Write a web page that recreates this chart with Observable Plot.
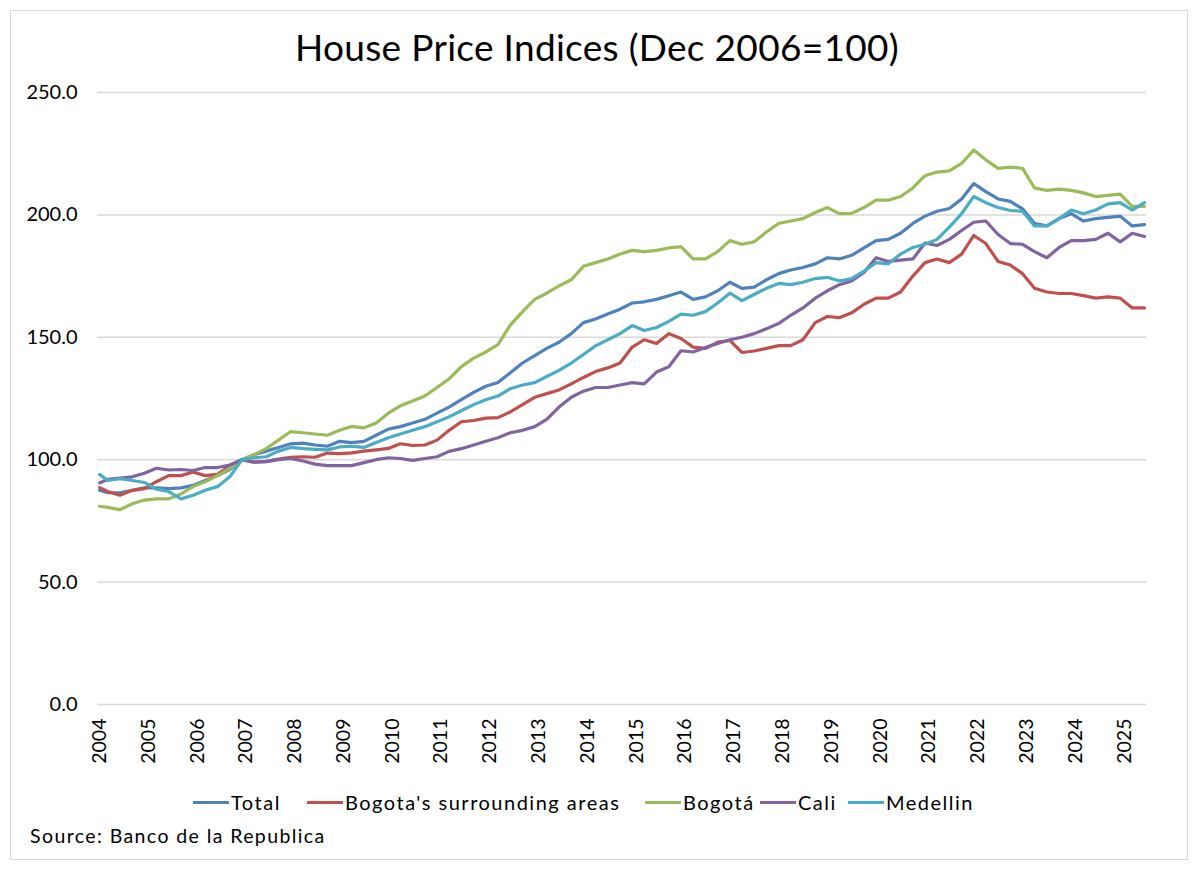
<!DOCTYPE html>
<html>
<head>
<meta charset="utf-8">
<script src="https://cdn.jsdelivr.net/npm/d3@7"></script>
<script src="https://cdn.jsdelivr.net/npm/@observablehq/plot@0.6"></script>
<style>
  body { margin: 0; background: #fff; font-family: Lato, "Open Sans", sans-serif; color: #000; }
  #page { position: relative; width: 1200px; height: 872px; overflow: hidden; }
  #frame { position: absolute; left: 10px; top: 10px; width: 1176px; height: 848px; border: 1.5px solid #d9d9d9; }
  #title { position: absolute; left: 0; top: 24px; width: 1194px; text-align: center; font-size: 37px; letter-spacing: 0.3px; }
  #chart { position: absolute; left: 0; top: 80px; }
  .item { position: absolute; top: 790px; display: flex; align-items: center; font-size: 20px; letter-spacing: 1.5px; white-space: nowrap; }
  .sw { width: 36px; height: 3px; margin-right: 2px; }
  #source { position: absolute; left: 30px; top: 824px; font-size: 19.5px; letter-spacing: 1.4px; }
</style>
</head>
<body>
<div id="page">
  <div id="frame"></div>
  <div id="title">House Price Indices (Dec 2006=100)</div>
  <div id="chart"></div>
  <div id="legend"></div>
  <div id="source">Source: Banco de la Republica</div>
</div>
<script>
const dates = [
  "2004-01","2004-03","2004-06","2004-09","2004-12",
  "2005-03","2005-06","2005-09","2005-12",
  "2006-03","2006-06","2006-09","2006-12",
  "2007-03","2007-06","2007-09","2007-12",
  "2008-03","2008-06","2008-09","2008-12",
  "2009-03","2009-06","2009-09","2009-12",
  "2010-03","2010-06","2010-09","2010-12",
  "2011-03","2011-06","2011-09","2011-12",
  "2012-03","2012-06","2012-09","2012-12",
  "2013-03","2013-06","2013-09","2013-12",
  "2014-03","2014-06","2014-09","2014-12",
  "2015-03","2015-06","2015-09","2015-12",
  "2016-03","2016-06","2016-09","2016-12",
  "2017-03","2017-06","2017-09","2017-12",
  "2018-03","2018-06","2018-09","2018-12",
  "2019-03","2019-06","2019-09","2019-12",
  "2020-03","2020-06","2020-09","2020-12",
  "2021-03","2021-06","2021-09","2021-12",
  "2022-03","2022-06","2022-09","2022-12",
  "2023-03","2023-06","2023-09","2023-12",
  "2024-03","2024-06","2024-09","2024-12",
  "2025-03","2025-06"
];

const seriesNames = ["Total", "Bogota's surrounding areas", "Bogotá", "Cali", "Medellin"];
const seriesColors = ["#4f81bd", "#c0504d", "#9bbb59", "#8064a2", "#4bacc6"];

const total = [
  87.5,86.5,86.5,87.5,88.5, 88.5,88.2,88.5,89.5, 91.5,93.5,96,100,
  102,103.5,105,106.5, 106.8,106,105.5,107.5, 107,107.5,110,112.5,
  113.5,115,116.5,119, 121.5,124.5,127.5,130, 131.5,135.5,139.5,142.5,
  145.5,148,151.5,156, 157.5,159.5,161.5,164, 164.5,165.5,167,168.5,
  165.5,166.5,169,172.5, 170,170.5,173.5,176, 177.5,178.5,180,182.5,
  182,183.5,186.5,189.5, 190,192.5,196.5,199.5, 201.5,202.6,206.5,212.8,
  209.5,206.5,205.5,202.5, 196.5,195.5,198.5,200.5, 197.5,198.5,199,199.5,
  195.5,196
];
const bogotaSurr = [
  88.6,87,85.5,87.5,88.2, 91,93.5,93.5,95, 93.5,94,97.5,100,
  99,99.3,100.3,101, 101.2,101,102.7,102.5, 102.8,103.5,104,104.6,
  106.5,105.8,106,108, 112,115.5,116,117, 117.2,119.5,122.5,125.5,
  127,128.5,131,133.6, 136,137.5,139.5,146, 149,147.5,151.5,149.5,
  146,145.5,148,148.7, 143.8,144.4,145.5,146.6, 146.6,149,156,158.5,
  158,160,163.5,166, 166,168.5,175,180.5, 182,180.5,184,191.6,
  188.3,181,179.5,176, 170,168.5,167.9,167.9, 167,166,166.5,166,
  162,162
];
const bogota = [
  81,80.5,79.6,82,83.5, 84,84,86,89, 91,93.5,96.5,100,
  102,104.5,108,111.5, 111,110.5,110,112, 113.6,113,115,119,
  122,124,126,129.5, 133,138,141.5,144, 147,155,160.5,165.5,
  168,171,173.5,179, 180.5,182,184,185.5, 185,185.5,186.5,187,
  182,182,185,189.5, 188,189,193,196.5, 197.5,198.5,201,203,
  200.5,200.6,203,206, 206,207.5,211,216, 217.5,218,221,226.5,
  222.5,219,219.5,219, 211,210,210.5,210, 209,207.5,208,208.5,
  203.5,203.5
];
const cali = [
  90.5,92,92.5,93,94.5, 96.5,95.8,96,95.6, 96.8,96.8,97.8,100,
  99,99.2,100,100.5, 99.5,98.2,97.6,97.6, 97.6,98.8,100,100.8,
  100.5,99.7,100.5,101.2, 103.4,104.5,106,107.5, 109,111,112,113.5,
  116.5,121.5,125.5,128, 129.5,129.5,130.5,131.5, 131,135.8,138,144.5,
  144,145.8,147.5,149, 150,151.5,153.5,155.6, 159,162,166,169,
  171.5,173,176.5,182.5, 181,181.5,182,188.5, 187.5,190,193.6,197,
  197.5,192,188.3,188, 185,182.5,186.7,189.5, 189.5,190,192.5,189,
  192.5,191.2
];
const medellin = [
  94,91.5,92.3,91.5,90.7, 88,87,84,85.5, 87.5,89,93,100,
  100.8,101.2,103.5,105, 104.5,104.2,104,105.2, 105.5,105,107,109,
  110.5,112,113.5,115.5, 117.5,120,122.5,124.5, 126,129,130.5,131.5,
  134,136.5,139.5,143, 146.5,149,151.5,154.8, 152.8,154,156.5,159.5,
  159,160.5,164,168, 165,167.5,170,172, 171.5,172.5,174,174.5,
  173,174,177,180.5, 180,184,186.7,188, 190,195,200.5,207.5,
  205,203,201.8,201.5, 195.5,195.5,198.5,202, 200.5,202,204.5,205,
  202,205
];

const yTicks = [0, 50, 100, 150, 200, 250];
const yearLabels = ["2004","2005","2006","2007","2008","2009","2010","2011","2012","2013","2014",
  "2015","2016","2017","2018","2019","2020","2021","2022","2023","2024","2025"];
const legendLefts = [193, 307, 645, 760, 848];

const parse = d3.utcParse("%Y-%m");
const seriesValues = [total, bogotaSurr, bogota, cali, medellin];
const rows = [];
seriesNames.forEach((name, s) => {
  seriesValues[s].forEach((v, i) => rows.push({ date: parse(dates[i]), value: v, series: name }));
});
const yearDates = yearLabels.map(y => d3.utcParse("%Y")(y));

const chart = Plot.plot({
  width: 1200,
  height: 720,
  marginTop: 12,
  marginBottom: 96,
  marginLeft: 97,
  marginRight: 54,
  style: { fontFamily: "Lato, 'Open Sans', sans-serif", fontSize: "20px", color: "#000", background: "transparent" },
  x: { type: "utc", domain: [new Date(Date.UTC(2003, 11, 16)), new Date(Date.UTC(2025, 5, 16))], label: null },
  y: { domain: [0, 250], label: null },
  color: { domain: seriesNames, range: seriesColors },
  marks: [
    Plot.gridY(yTicks, { stroke: "#d9d9d9", strokeOpacity: 1, strokeWidth: 1.5 }),
    Plot.axisY(yTicks, { tickSize: 0, tickPadding: 20, tickFormat: d => d.toFixed(1), fontSize: 20 }),
    Plot.axisX(yearDates, { tickSize: 0, tickPadding: 14, tickRotate: -90, tickFormat: d3.utcFormat("%Y"), fontSize: 19.5 }),
    Plot.line(rows, { x: "date", y: "value", stroke: "series", z: "series", strokeWidth: 3.2, strokeLinejoin: "round" })
  ]
});
document.getElementById("chart").appendChild(chart);

const legend = document.getElementById("legend");
seriesNames.forEach((name, i) => {
  const item = document.createElement("div");
  item.className = "item";
  item.style.left = legendLefts[i] + "px";
  const sw = document.createElement("span");
  sw.className = "sw";
  sw.style.background = seriesColors[i];
  const lab = document.createElement("span");
  lab.textContent = name;
  item.appendChild(sw);
  item.appendChild(lab);
  legend.appendChild(item);
});
</script>
</body>
</html>
